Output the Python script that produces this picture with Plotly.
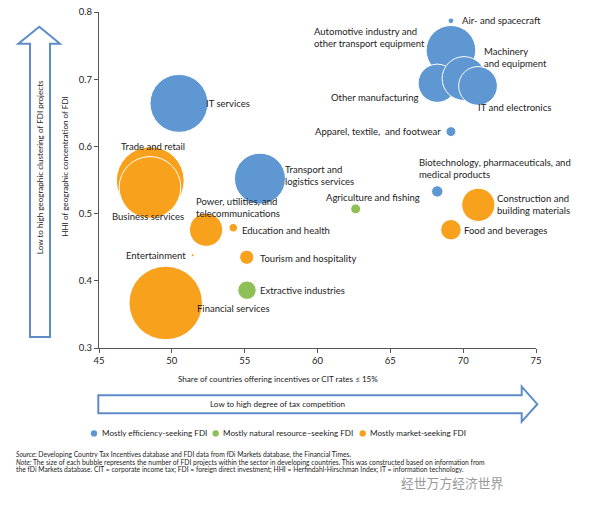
import plotly.graph_objects as go

# ---------------- data ----------------
sectors = [
    "IT services", "Automotive industry and<br>other transport equipment", "Other manufacturing",
    "Machinery<br>and equipment", "IT and electronics", "Air- and spacecraft",
    "Apparel, textile,  and footwear", "Biotechnology, pharmaceuticals, and<br>medical products",
    "Transport and<br>logistics services",
    "Agriculture and fishing", "Extractive industries",
    "Financial services", "Trade and retail", "Business services",
    "Power, utilities, and<br>telecommunications", "Education and health", "Entertainment",
    "Tourism and hospitality", "Construction and<br>building materials", "Food and beverages",
]
group = [
    "eff", "eff", "eff", "eff", "eff", "eff", "eff", "eff", "eff",
    "nat", "nat",
    "mkt", "mkt", "mkt", "mkt", "mkt", "mkt", "mkt", "mkt", "mkt",
]
share_incentives = [50.49, 69.16, 68.22, 70.06, 71.02, 69.16, 69.16, 68.22, 56.05,
                    62.62, 55.16,
                    49.58, 48.52, 48.50, 52.35, 54.22, 51.43, 55.14, 71.04, 69.16]
hhi = [0.664, 0.743, 0.694, 0.701, 0.690, 0.787, 0.622, 0.533, 0.552,
       0.507, 0.386,
       0.367, 0.549, 0.539, 0.476, 0.479, 0.438, 0.435, 0.513, 0.476]
fdi_projects = [1680, 1230, 730, 960, 750, 16, 49, 64, 1300,
                49, 170,
                2700, 2300, 1900, 550, 36, 4, 100, 550, 210]

x_ticks = [45, 50, 55, 60, 65, 70, 75]
y_ticks = [0.3, 0.4, 0.5, 0.6, 0.7, 0.8]

groups = ["eff", "nat", "mkt"]
group_names = ["Mostly efficiency-seeking FDI", "Mostly natural resource\u2013seeking FDI",
               "Mostly market-seeking FDI"]
colors = {"eff": "#5f97d2", "nat": "#8fbf57", "mkt": "#f7a11c"}

footer_lines = [
    "<i>Source:</i> Developing Country Tax Incentives database and FDI data from fDi Markets database, the Financial Times.",
    "<i>Note:</i> The size of each bubble represents the number of FDI projects within the sector in developing countries. This was constructed based on information from",
    "the fDi Markets database. CIT = corporate income tax; FDI = foreign direct investment; HHI = Herfindahl-Hirschman Index; IT = information technology.",
]

# label placement (anchor, xshift, yshift in px)
label_pos = {
    "IT services": ("left", 25, 0),
    "Automotive industry and<br>other transport equipment": ("right", -24, 13),
    "Other manufacturing": ("right", -17, -14),
    "Machinery<br>and equipment": ("left", 18, 21),
    "IT and electronics": ("left", -2, -22),
    "Air- and spacecraft": ("left", 9, 0),
    "Apparel, textile,  and footwear": ("right", -8, 0),
    "Biotechnology, pharmaceuticals, and<br>medical products": ("left", -20, 23),
    "Transport and<br>logistics services": ("left", 23, 3),
    "Agriculture and fishing": ("center", 17, 11),
    "Extractive industries": ("left", 11, 0),
    "Financial services": ("left", 29, -6),
    "Trade and retail": ("center", 3, 34),
    "Business services": ("center", -2, -29),
    "Power, utilities, and<br>telecommunications": ("left", -12, 22),
    "Education and health": ("left", 7, -3),
    "Entertainment": ("right", -5, 0),
    "Tourism and hospitality": ("left", 11, -1),
    "Construction and<br>building materials": ("left", 17, 0),
    "Food and beverages": ("left", 11, -1),
}

FONT = "Lato, 'Open Sans', sans-serif"
W, H = 600, 519
L, R, T, B = 99, 64, 6, 171
PW, PH = W - L - R, H - T - B


def px(x):
    return (x - L) / PW


def py(y):
    return (H - B - y) / PH


fig = go.Figure()
for g in groups:
    idx = [i for i, gg in enumerate(group) if gg == g]
    fig.add_trace(go.Scatter(
        x=[share_incentives[i] for i in idx],
        y=[hhi[i] for i in idx],
        text=[sectors[i] for i in idx],
        mode="markers",
        marker=dict(size=[fdi_projects[i] for i in idx], sizemode="area", sizeref=1.0,
                    color=colors[g], opacity=1, line=dict(color="white", width=1)),
        showlegend=False,
        hoverinfo="text",
    ))

annotations = []
for i, s in enumerate(sectors):
    anc, xs, ys = label_pos[s]
    annotations.append(dict(x=share_incentives[i], y=hhi[i], xref="x", yref="y", text=s,
                            showarrow=False, xanchor=anc, yanchor="middle", align="left",
                            xshift=xs, yshift=ys, font=dict(size=9.5, color="#222")))


def ptext(x, y, text, size=8.1, angle=0, xanchor="center", **kw):
    return dict(x=px(x), y=py(y), xref="paper", yref="paper", text=text, textangle=angle,
                xanchor=xanchor, yanchor=kw.pop("yanchor", "middle"), showarrow=False,
                font=kw.pop("font", dict(size=size, color="#222")), **kw)


# axis titles and arrow texts
annotations += [
    ptext(65, 163.5, "HHI of geographic concentration of FDI", angle=-90),
    ptext(40, 164, "Low to high geographic clustering of FDI projects", angle=-90),
    ptext(277.5, 380, "Share of countries offering incentives or CIT rates \u2264 15%"),
    ptext(277, 405, "Low to high degree of tax competition"),
]

shapes = []
# arrows
lp = [(39.3, 21), (60, 38.3), (50, 38.3), (50, 336.7), (30, 336.7), (30, 38.3), (18.3, 38.3)]
bp = [(98.3, 396), (521.7, 396), (521.7, 387.3), (537.3, 405.2), (521.7, 423), (521.7, 414.3), (98.3, 414.3)]
for pts in (lp, bp):
    path = "M " + " L ".join(f"{px(a):.5f},{py(b):.5f}" for a, b in pts) + " Z"
    shapes.append(dict(type="path", path=path, xref="paper", yref="paper", layer="below",
                       line=dict(color="#5d8cc8", width=2), fillcolor="white"))

# legend (manual)
leg_dot_x = [94, 215.7, 362.7]
for g, name, dx in zip(groups, group_names, leg_dot_x):
    shapes.append(dict(type="circle", xref="paper", yref="paper",
                       x0=px(dx - 3.2), x1=px(dx + 3.2), y0=py(435 + 3.2), y1=py(435 - 3.2),
                       fillcolor=colors[g], line=dict(width=0)))
    annotations.append(ptext(dx + 5.5, 435, name, xanchor="left"))

# footer, one line per annotation for tight line spacing
for k, line in enumerate(footer_lines):
    annotations.append(ptext(14, 456 + 7.9 * k, line, xanchor="left",
                             font=dict(size=6.75, color="#222")))
annotations.append(ptext(399, 484.5, "经世万方经济世界", xanchor="left",
                         font=dict(size=12.8, color="#9a9a9a", family="Noto Sans CJK SC")))

fig.update_layout(
    width=W, height=H, margin=dict(l=L, r=R, t=T, b=B),
    paper_bgcolor="white", plot_bgcolor="white",
    font=dict(family=FONT, size=9.5, color="#222"),
    xaxis=dict(range=[45, 75], tickvals=x_ticks, showgrid=False, zeroline=False,
               showline=True, linecolor="#555", linewidth=1, ticks="outside", ticklen=4,
               tickcolor="#555", tickfont=dict(size=9.5)),
    yaxis=dict(range=[0.3, 0.8], tickvals=y_ticks, tickformat=".1f", showgrid=False, zeroline=False,
               showline=True, linecolor="#555", linewidth=1, ticks="outside", ticklen=4,
               tickcolor="#555", tickfont=dict(size=9.5)),
    annotations=annotations, shapes=shapes,
)

fig.write_html("out.html", config={"displayModeBar": False},
               post_script="document.body.style.margin='0';document.body.style.overflow='hidden';")
